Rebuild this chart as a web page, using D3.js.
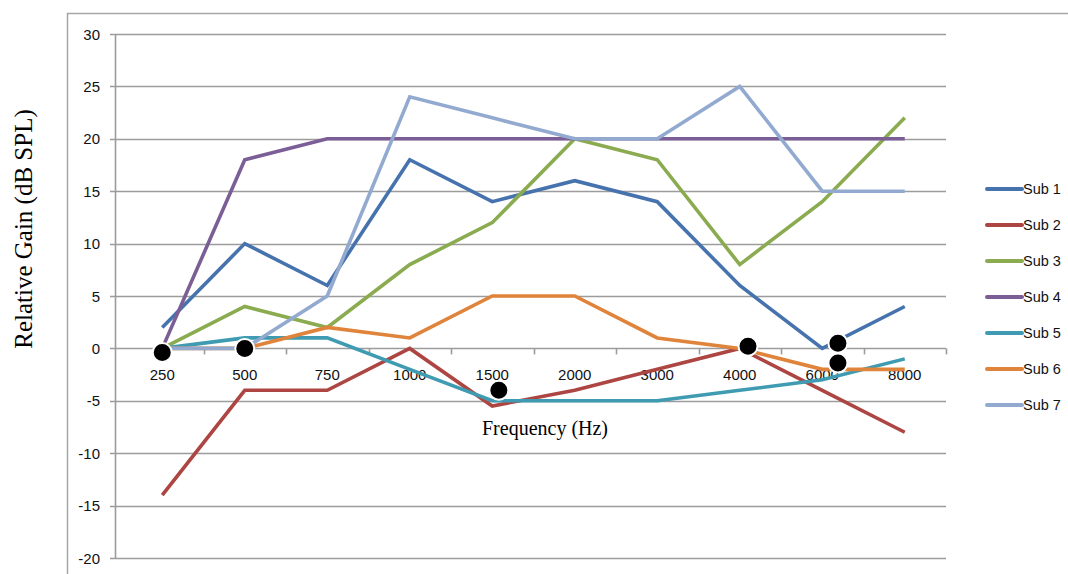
<!DOCTYPE html>
<html>
<head>
<meta charset="utf-8">
<script src="https://cdn.jsdelivr.net/npm/d3@7/dist/d3.min.js"></script>
<style>
  html, body { margin: 0; padding: 0; background: #fff; }
  svg { display: block; }
</style>
</head>
<body>
<svg id="chart" width="1068" height="574"></svg>
<script>
// Frequency bands (Hz) along the x axis
const frequencies = ["250", "500", "750", "1000", "1500", "2000", "3000", "4000", "6000", "8000"];

// Relative gain per subject (dB SPL)
const sub1 = [2, 10, 6, 18, 14, 16, 14, 6, 0, 4];
const sub2 = [-14, -4, -4, 0, -5.5, -4, -2, 0, -4, -8];
const sub3 = [0, 4, 2, 8, 12, 20, 18, 8, 14, 22];
const sub4 = [0, 18, 20, 20, 20, 20, 20, 20, 20, 20];
const sub5 = [0, 1, 1, -2, -5, -5, -5, -4, -3, -1];
const sub6 = [0, 0, 2, 1, 5, 5, 1, 0, -2, -2];
const sub7 = [0, 0, 5, 24, 22, 20, 20, 25, 15, 15];

const seriesNames = ["Sub 1", "Sub 2", "Sub 3", "Sub 4", "Sub 5", "Sub 6", "Sub 7"];
const seriesValues = [sub1, sub2, sub3, sub4, sub5, sub6, sub7];
const seriesColors = ["#4673ad", "#ad4542", "#8aab4f", "#7b5e95", "#3f9bb1", "#e0843b", "#93aad0"];

// Y axis ticks
const yTicks = [-20, -15, -10, -5, 0, 5, 10, 15, 20, 25, 30];

// Marked points: position along the band index and gain value
const markerIndex = [0, 1, 4.08, 7.1, 8.19, 8.19];
const markerValue = [-0.4, 0, -4, 0.2, 0.5, -1.4];

const svg = d3.select("#chart");

// Outer chart frame
svg.append("path")
  .attr("d", "M67.5,580 V13.5 H1080")
  .attr("fill", "none")
  .attr("stroke", "#a6a6a6")
  .attr("stroke-width", 1.5);

const plotLeft = 115, plotRight = 946;

const x = d3.scaleBand().domain(frequencies).range([121, plotRight]).padding(0);
const xc = d => x(d) + x.bandwidth() / 2;
const y = d3.scaleLinear().domain([-20, 30]).range([558, 34]);
const xIdx = d3.scaleLinear().domain([0, frequencies.length - 1])
  .range([xc(frequencies[0]), xc(frequencies[frequencies.length - 1])]);

// Horizontal gridlines + left ticks
const grid = svg.append("g");
grid.selectAll("line.g").data(yTicks).join("line")
  .attr("class", "g")
  .attr("x1", plotLeft - 5).attr("x2", plotRight)
  .attr("y1", d => Math.round(y(d)) + 0.5).attr("y2", d => Math.round(y(d)) + 0.5)
  .attr("stroke", "#9c9c9c").attr("stroke-width", 1.6);

// Y axis line
svg.append("line")
  .attr("x1", plotLeft + 0.5).attr("x2", plotLeft + 0.5)
  .attr("y1", y(30)).attr("y2", y(-20) + 1)
  .attr("stroke", "#9c9c9c").attr("stroke-width", 1.6);

// Y tick labels
svg.append("g").selectAll("text").data(yTicks).join("text")
  .attr("x", 100).attr("y", d => y(d) + 5.5)
  .attr("text-anchor", "end")
  .attr("font-family", "Liberation Sans, Arial, sans-serif")
  .attr("font-size", 15)
  .attr("fill", "#111")
  .text(d => d);

// X axis (at zero) tick marks on band boundaries
const boundaries = frequencies.map(f => x(f)).slice(1).concat([plotRight]);
svg.append("g").selectAll("line").data(boundaries).join("line")
  .attr("x1", d => Math.round(d) + 0.5).attr("x2", d => Math.round(d) + 0.5)
  .attr("y1", y(0)).attr("y2", y(0) + 6)
  .attr("stroke", "#9c9c9c").attr("stroke-width", 1.6);

// X tick labels
svg.append("g").selectAll("text").data(frequencies).join("text")
  .attr("x", d => xc(d)).attr("y", y(0) + 32)
  .attr("text-anchor", "middle")
  .attr("font-family", "Liberation Sans, Arial, sans-serif")
  .attr("font-size", 15)
  .attr("fill", "#111")
  .text(d => d);

// Series lines
const line = d3.line()
  .x((d, i) => xc(frequencies[i]))
  .y(d => y(d))
  .curve(d3.curveLinear);

svg.append("g").selectAll("path").data(seriesValues).join("path")
  .attr("d", d => line(d))
  .attr("fill", "none")
  .attr("stroke", (d, i) => seriesColors[i])
  .attr("stroke-width", 3.6)
  .attr("stroke-linejoin", "miter");

// Marked points
svg.append("g").selectAll("circle").data(markerValue).join("circle")
  .attr("cx", (d, i) => xIdx(markerIndex[i]))
  .attr("cy", d => y(d))
  .attr("r", 9.5)
  .attr("fill", "#000")
  .attr("stroke", "#fff")
  .attr("stroke-width", 2);

// Axis titles
svg.append("text")
  .attr("transform", "translate(32,229) rotate(-90)")
  .attr("text-anchor", "middle")
  .attr("font-family", "Liberation Serif, Times New Roman, serif")
  .attr("font-size", 25)
  .attr("fill", "#000")
  .text("Relative Gain (dB SPL)");

svg.append("text")
  .attr("x", 545).attr("y", 435)
  .attr("text-anchor", "middle")
  .attr("font-family", "Liberation Serif, Times New Roman, serif")
  .attr("font-size", 20)
  .attr("fill", "#000")
  .text("Frequency (Hz)");

// Legend
const legend = svg.append("g").selectAll("g").data(seriesNames).join("g")
  .attr("transform", (d, i) => `translate(987,${189 + i * 36})`);
legend.append("line")
  .attr("x1", 0).attr("x2", 35).attr("y1", 0).attr("y2", 0)
  .attr("stroke", (d, i) => seriesColors[i])
  .attr("stroke-width", 4)
  .attr("stroke-linecap", "round");
legend.append("text")
  .attr("x", 36).attr("y", 5)
  .attr("font-family", "Liberation Sans, Arial, sans-serif")
  .attr("font-size", 14.5)
  .attr("fill", "#111")
  .text(d => d);
</script>
</body>
</html>
